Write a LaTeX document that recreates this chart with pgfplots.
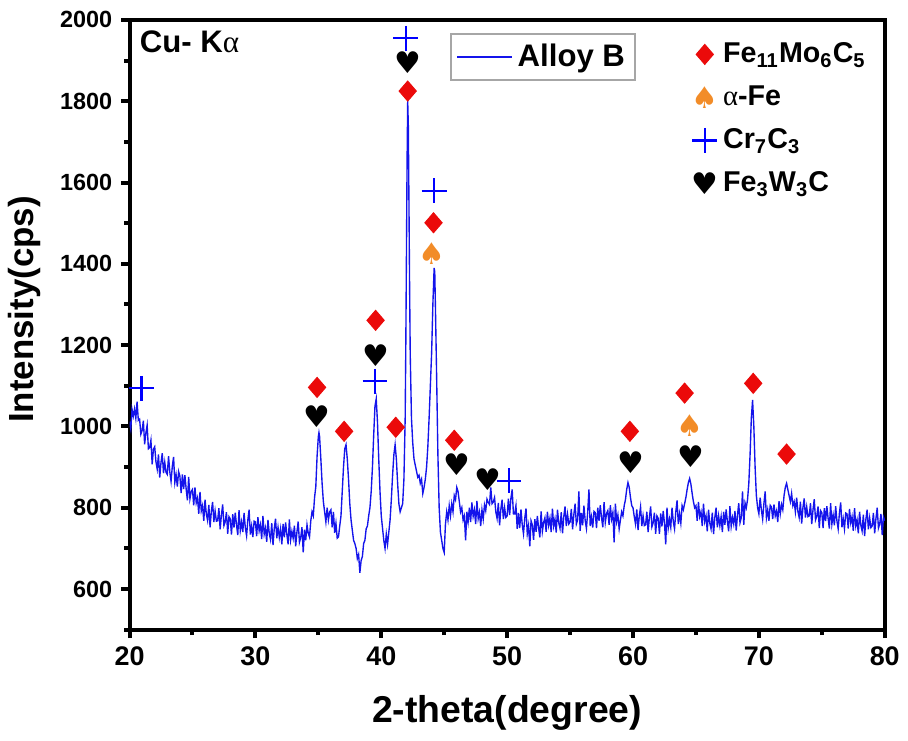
\documentclass[border=0pt]{standalone}
\usepackage{fontspec}
\setmainfont{Liberation Sans}
\newfontfamily\dejavu{DejaVu Sans}
\newfontfamily\serif{Liberation Serif}
\usepackage{graphicx}
\usepackage{pgfplots}
\pgfplotsset{compat=1.18}
\definecolor{xrdblue}{RGB}{20,20,235}
\definecolor{mkred}{RGB}{235,10,10}
\definecolor{mkorange}{RGB}{242,140,40}
\pgfplotsset{xrdaxis/.style={width=303.2pt, height=244.8pt, scale only axis,
  xmin=20, xmax=80, ymin=500, ymax=2000}}

\begin{document}
\begin{tikzpicture}
\begin{axis}[xrdaxis,
  axis line style={line width=1.6pt},
  xtick={20,30,...,80}, ytick={600,800,...,2000},
  minor xtick={25,35,...,75}, minor ytick={500,700,...,1900},
  xtick pos=bottom, ytick pos=left, tick align=outside,
  major tick length=3.4pt, minor tick length=2.2pt,
  every tick/.style={line width=1.6pt, black},
  /pgf/number format/assume math mode=true,
  /pgf/number format/1000 sep={},
  x tick label style={font=\bfseries\fontsize{10.8}{12}\selectfont},
  y tick label style={font=\bfseries\fontsize{9.4}{11}\selectfont},
  xlabel={2-theta(degree)}, ylabel={Intensity(cps)},
  every axis x label/.style={at={(axis description cs:0.5,0)}, anchor=north, yshift=-23pt,
    font=\bfseries\fontsize{15}{17}\selectfont},
  every axis y label/.style={at={(axis description cs:-0.1385,0.525)}, anchor=center, rotate=90,
    font=\bfseries\fontsize{14}{16}\selectfont},
  legend style={at={(rel axis cs:0.425,0.979)}, anchor=north west, draw=gray!70, line width=0.8pt,
    font=\bfseries\fontsize{12.5}{14}\selectfont, inner sep=2pt},
  legend image code/.code={\draw[#1, line width=0.6pt] (0pt,0pt) -- (22pt,0pt);},
]
\addplot[xrdblue, line width=0.55pt] coordinates {
(20.0,1012) (20.1,994) (20.2,1042) (20.3,1025) (20.4,1043) (20.5,1020) (20.6,1061) (20.7,1015) (20.8,1018) (20.9,981)
(21.0,990) (21.1,1014) (21.2,956) (21.3,984) (21.4,1003) (21.5,945) (21.6,948) (21.7,966) (21.8,907) (21.9,944)
(22.0,950) (22.1,913) (22.2,895) (22.3,931) (22.4,874) (22.5,911) (22.6,934) (22.7,885) (22.8,912) (22.9,887)
(23.0,882) (23.1,927) (23.2,888) (23.3,865) (23.4,902) (23.5,925) (23.6,862) (23.7,881) (23.8,852) (23.9,889)
(24.0,878) (24.1,836) (24.2,882) (24.3,846) (24.4,880) (24.5,846) (24.6,818) (24.7,876) (24.8,822) (24.9,840)
(25.0,845) (25.1,806) (25.2,850) (25.3,812) (25.4,824) (25.5,785) (25.6,839) (25.7,792) (25.8,805) (25.9,768)
(26.0,820) (26.1,785) (26.2,769) (26.3,807) (26.4,752) (26.5,791) (26.6,814) (26.7,765) (26.8,792) (26.9,767)
(27.0,768) (27.1,799) (27.2,747) (27.3,782) (27.4,808) (27.5,756) (27.6,765) (27.7,789) (27.8,736) (27.9,778)
(28.0,773) (28.1,734) (28.2,784) (28.3,751) (28.4,788) (28.5,758) (28.6,733) (28.7,794) (28.8,744) (28.9,765)
(29.0,740) (29.1,787) (29.2,751) (29.3,731) (29.4,770) (29.5,795) (29.6,734) (29.7,755) (29.8,728) (29.9,767)
(30.0,765) (30.1,730) (30.2,777) (30.3,743) (30.4,758) (30.5,723) (30.6,780) (30.7,735) (30.8,750) (30.9,716)
(31.0,770) (31.1,737) (31.2,722) (31.3,762) (31.4,708) (31.5,749) (31.6,773) (31.7,725) (31.8,752) (31.9,727)
(32.0,748) (32.1,710) (32.2,760) (32.3,727) (32.4,764) (32.5,734) (32.6,710) (32.7,771) (32.8,721) (32.9,742)
(33.0,725) (33.1,756) (33.2,705) (33.3,740) (33.4,766) (33.5,715) (33.6,726) (33.7,752) (33.8,690) (33.9,746)
(34.0,720) (34.1,758) (34.2,737) (34.3,728) (34.4,768) (34.5,790) (34.6,780) (34.7,825) (34.8,852) (34.9,926)
(35.0,975) (35.05,985) (35.1,975) (35.2,920) (35.3,860) (35.4,815) (35.5,790) (35.6,765) (35.7,800) (35.8,770) (35.9,790)
(36.0,795) (36.1,752) (36.2,790) (36.3,738) (36.4,762) (36.5,725) (36.6,728) (36.7,755) (36.8,780) (36.9,840)
(37.0,900) (37.1,945) (37.2,955) (37.3,920) (37.4,870) (37.5,810) (37.6,770) (37.7,745) (37.8,720) (37.9,712)
(38.0,700) (38.1,675) (38.2,685) (38.3,640) (38.4,670) (38.5,680) (38.6,712) (38.7,720) (38.8,748) (38.9,755)
(39.0,780) (39.1,800) (39.2,840) (39.3,900) (39.4,980) (39.5,1050) (39.6,1068) (39.7,1010) (39.8,920) (39.9,840)
(40.0,780) (40.1,750) (40.2,720) (40.3,700) (40.4,735) (40.5,710) (40.6,740) (40.7,770) (40.8,820) (40.9,880)
(41.0,930) (41.1,955) (41.2,920) (41.3,860) (41.4,810) (41.5,790) (41.6,800) (41.7,810) (41.8,870) (41.9,1020) (41.95,1200)
(42.0,1420) (42.05,1650) (42.1,1800) (42.15,1740) (42.2,1550) (42.25,1350) (42.3,1180) (42.4,1020) (42.5,960) (42.6,920) (42.7,905) (42.8,890) (42.9,875)
(43.0,880) (43.1,860) (43.2,870) (43.3,835) (43.4,850) (43.5,870) (43.6,900) (43.7,950) (43.8,1020) (43.9,1100)
(44.0,1180) (44.1,1300) (44.2,1390) (44.25,1380) (44.3,1300) (44.4,1120) (44.5,930) (44.6,800) (44.7,740) (44.8,720) (44.9,700)
(45.0,690) (45.1,760) (45.2,790) (45.3,770) (45.4,805) (45.5,780) (45.6,810) (45.7,790) (45.8,830) (45.9,820)
(46.0,850) (46.1,840) (46.2,815) (46.3,790) (46.4,800) (46.5,770) (46.6,780) (46.7,720) (46.8,790) (46.9,765)
(47.0,800) (47.1,765) (47.2,813) (47.3,779) (47.4,795) (47.5,760) (47.6,817) (47.7,773) (47.8,789) (47.9,755)
(48.0,795) (48.1,772) (48.2,807) (48.3,793) (48.4,821) (48.5,813) (48.6,808) (48.7,850) (48.8,810) (48.9,814)
(49.0,825) (49.1,790) (49.2,774) (49.3,812) (49.4,757) (49.5,796) (49.6,820) (49.7,772) (49.8,800) (49.9,776)
(50.0,780) (50.1,822) (50.2,782) (50.3,823) (50.4,845) (50.5,785) (50.6,785) (50.7,805) (50.8,748) (50.9,787)
(51.0,750) (51.1,796) (51.2,758) (51.3,736) (51.4,774) (51.5,798) (51.6,736) (51.7,756) (51.8,705) (51.9,768)
(52.0,758) (52.1,721) (52.2,772) (52.3,741) (52.4,780) (52.5,751) (52.6,727) (52.7,791) (52.8,742) (52.9,764)
(53.0,775) (53.1,741) (53.2,790) (53.3,757) (53.4,774) (53.5,740) (53.6,798) (53.7,755) (53.8,772) (53.9,739)
(54.0,795) (54.1,763) (54.2,749) (54.3,789) (54.4,737) (54.5,778) (54.6,803) (54.7,755) (54.8,784) (54.9,760)
(55.0,765) (55.1,797) (55.2,747) (55.3,783) (55.4,810) (55.5,760) (55.6,770) (55.7,840) (55.8,743) (55.9,787)
(56.0,757) (56.1,805) (56.2,769) (56.3,749) (56.4,789) (56.5,845) (56.6,755) (56.7,777) (56.8,751) (56.9,791)
(57.0,788) (57.1,750) (57.2,800) (57.3,768) (57.4,806) (57.5,776) (57.6,752) (57.7,814) (57.8,764) (57.9,786)
(58.0,793) (58.1,758) (58.2,806) (58.3,772) (58.4,788) (58.5,715) (58.6,810) (58.7,766) (58.8,782) (58.9,748)
(59.0,770) (59.1,790) (59.2,780) (59.3,805) (59.4,820) (59.5,845) (59.6,862) (59.7,850) (59.8,825) (59.9,805)
(60.0,800) (60.1,778) (60.2,760) (60.3,796) (60.4,745) (60.5,780) (60.6,802) (60.7,755) (60.8,780) (60.9,756)
(61.0,758) (61.1,790) (61.2,740) (61.3,776) (61.4,803) (61.5,753) (61.6,763) (61.7,788) (61.8,736) (61.9,780)
(62.0,774) (62.1,736) (62.2,786) (62.3,754) (62.4,792) (62.5,762) (62.6,710) (62.7,800) (62.8,750) (62.9,772)
(63.0,752) (63.1,800) (63.2,766) (63.3,748) (63.4,790) (63.5,818) (63.6,760) (63.7,785) (63.8,762) (63.9,805)
(64.0,795) (64.1,810) (64.2,825) (64.3,845) (64.4,862) (64.5,872) (64.6,858) (64.7,835) (64.8,815) (64.9,800)
(65.0,805) (65.1,768) (65.2,814) (65.3,778) (65.4,790) (65.5,755) (65.6,810) (65.7,766) (65.8,780) (65.9,742)
(66.0,795) (66.1,762) (66.2,748) (66.3,788) (66.4,735) (66.5,776) (66.6,800) (66.7,752) (66.8,780) (66.9,756)
(67.0,778) (67.1,740) (67.2,790) (67.3,758) (67.4,796) (67.5,766) (67.6,742) (67.7,804) (67.8,754) (67.9,776)
(68.0,760) (68.1,792) (68.2,744) (68.3,782) (68.4,811) (68.5,763) (68.6,775) (68.7,840) (68.8,758) (68.9,812)
(69.0,800) (69.1,820) (69.2,860) (69.3,930) (69.4,1020) (69.5,1065) (69.6,1000) (69.7,900) (69.8,830) (69.9,800)
(70.0,785) (70.1,825) (70.2,795) (70.3,772) (70.4,810) (70.5,840) (70.6,775) (70.7,795) (70.8,768) (70.9,806)
(71.0,802) (71.1,772) (71.2,808) (71.3,780) (71.4,792) (71.5,765) (71.6,816) (71.7,785) (71.8,808) (71.9,795)
(72.0,830) (72.1,850) (72.2,860) (72.3,845) (72.4,830) (72.5,815) (72.6,835) (72.7,805) (72.8,815) (72.9,790)
(73.0,825) (73.1,791) (73.2,776) (73.3,815) (73.4,761) (73.5,800) (73.6,823) (73.7,776) (73.8,802) (73.9,778)
(74.0,780) (74.1,811) (74.2,760) (74.3,795) (74.4,821) (74.5,770) (74.6,779) (74.7,803) (74.8,750) (74.9,793)
(75.0,788) (75.1,750) (75.2,799) (75.3,767) (75.4,804) (75.5,774) (75.6,749) (75.7,811) (75.8,760) (75.9,782)
(76.0,757) (76.1,804) (76.2,768) (76.3,748) (76.4,787) (76.5,813) (76.6,752) (76.7,773) (76.8,748) (76.9,787)
(77.0,785) (77.1,749) (77.2,797) (77.3,763) (77.4,778) (77.5,743) (77.6,799) (77.7,755) (77.8,770) (77.9,737)
(78.0,790) (78.1,757) (78.2,743) (78.3,783) (78.4,730) (78.5,771) (78.6,795) (78.7,747) (78.8,775) (78.9,751)
(79.0,755) (79.1,787) (79.2,737) (79.3,773) (79.4,800) (79.5,750) (79.6,760) (79.7,785) (79.8,733) (79.9,777)
(80.0,768)
};
\addlegendentry{Alloy B}
\node[anchor=north west, inner sep=0pt, font=\bfseries\fontsize{12.5}{14}\selectfont]
  at (rel axis cs:0.013,0.983) {Cu- K{\serif\mdseries α}};
\coordinate (sw) at (rel axis cs:0,0);
\coordinate (ne) at (rel axis cs:1,1);
\end{axis}

\begin{axis}[xrdaxis, hide axis, clip=false,
  legend style={at={(rel axis cs:0.74,0.976)}, anchor=north west, draw=none, fill=none,
    font=\bfseries\fontsize{11.5}{13}\selectfont, row sep=3.8pt, inner sep=1pt},
  legend cell align=left,
]
\addplot[only marks, mark=diamond*, mkred, mark size=4pt, mark options={xscale=1.15}] coordinates {
(34.9,1096) (37.05,988) (39.55,1261) (41.15,998) (42.1,1825) (44.15,1501) (45.8,966) (59.75,988) (64.1,1082) (69.55,1106) (72.2,932)};
\addlegendentry{Fe\textsubscript{11}Mo\textsubscript{6}C\textsubscript{5}}
\addplot[only marks, mark=text, text mark={\fontsize{12}{12}\selectfont\dejavu\mdseries\color{mkorange}♠}, mkorange] coordinates {
(44.0,1425) (64.5,1003)};
\addlegendentry{{\serif\mdseries α}-Fe}
\addplot[only marks, mark=+, blue, mark size=5pt, line width=0.9pt] coordinates {
(20.95,1094) (39.5,1111) (41.95,1955) (44.2,1580) (50.15,866)};
\addlegendentry{Cr\textsubscript{7}C\textsubscript{3}}
\addplot[only marks, mark=text, text mark={\fontsize{12}{12}\selectfont\dejavu\mdseries\color{black}♥}, black] coordinates {
(34.85,1023) (39.6,1175) (42.1,1896) (46.0,905) (48.5,870) (59.8,910) (64.6,925)};
\addlegendentry{Fe\textsubscript{3}W\textsubscript{3}C}
\end{axis}
\path ([shift={(-52pt,-44.4pt)}]sw) rectangle ([shift={(8pt,8pt)}]ne);
\end{tikzpicture}
\end{document}
